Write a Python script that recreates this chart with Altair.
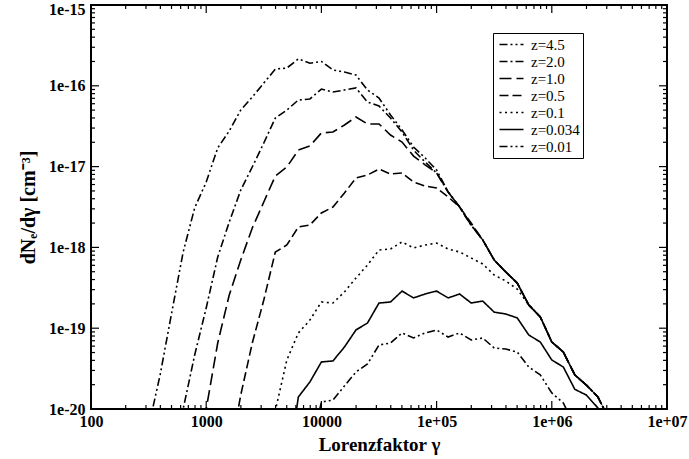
import altair as alt
import pandas as pd

# Lorentz factor grid (log-spaced, 0.1 dex)
GAMMA = [316.2, 398.1, 501.2, 631.0, 794.3, 1000, 1258.9, 1584.9, 1995.3, 2511.9,
         3162.3, 3981.1, 5011.9, 6309.6, 7943.3, 10000, 12589, 15849, 19953, 25119,
         31623, 39811, 50119, 63096, 79433, 100000, 125893, 158489, 199526, 251189,
         316228, 398107, 501187, 630957, 794328, 1000000, 1258925, 1584893, 1995262,
         2511886, 3162278]

Z_LABELS = ["z=4.5", "z=2.0", "z=1.0", "z=0.5", "z=0.1", "z=0.034", "z=0.01"]

N_Z45 = [6e-21, 2.64e-20, 1.54e-19, 8.77e-19, 3.08e-18, 6.44e-18, 1.70e-17, 2.76e-17, 5.01e-17, 7.26e-17,
         1.08e-16, 1.61e-16, 1.66e-16, 2.15e-16, 1.90e-16, 2.00e-16, 1.57e-16, 1.48e-16, 1.36e-16, 8.87e-17,
         7.06e-17, 4.36e-17, 2.84e-17, 1.75e-17, 1.28e-17, 9.08e-18, 4.85e-18, 3.16e-18, 1.89e-18, 1.24e-18,
         6.98e-19, 4.97e-19, 3.62e-19, 1.94e-19, 1.38e-19, 6.75e-20, 5.07e-20, 2.64e-20, 1.98e-20, 1.41e-20,
         7.3e-21]
N_Z20 = [None, None, 2e-21, 1.0e-20, 4.66e-20, 1.78e-19, 7.60e-19, 2.06e-18, 5.13e-18, 9.89e-18,
         1.96e-17, 3.99e-17, 5.01e-17, 6.67e-17, 6.87e-17, 9.12e-17, 8.38e-17, 8.87e-17, 9.40e-17, 6.31e-17,
         5.62e-17, 3.99e-17, 2.68e-17, 1.60e-17, 1.14e-17, 8.34e-18, 4.85e-18, 3.16e-18, 1.89e-18, 1.24e-18,
         6.98e-19, 4.97e-19, 3.62e-19, 1.94e-19, 1.38e-19, 6.75e-20, 5.07e-20, 2.64e-20, 1.98e-20, 1.41e-20,
         7.3e-21]
N_Z10 = [None, None, None, None, 3e-21, 1.0e-20, 6.56e-20, 2.58e-19, 6.98e-19, 1.74e-18,
         3.65e-18, 7.65e-18, 9.89e-18, 1.60e-17, 1.80e-17, 2.61e-17, 2.68e-17, 3.27e-17, 4.11e-17, 3.37e-17,
         3.37e-17, 2.46e-17, 2.01e-17, 1.35e-17, 1.05e-17, 8.34e-18, 4.85e-18, 3.16e-18, 1.89e-18, 1.24e-18,
         6.98e-19, 4.97e-19, 3.62e-19, 1.94e-19, 1.38e-19, 6.75e-20, 5.07e-20, 2.64e-20, 1.98e-20, 1.41e-20,
         7.3e-21]
N_Z05 = [None, None, None, None, None, None, None, 2.5e-21, 1.49e-20, 6.56e-20,
         2.23e-19, 8.77e-19, 1.07e-18, 1.79e-18, 1.89e-18, 2.67e-18, 3.16e-18, 4.71e-18, 7.23e-18, 7.87e-18,
         9.33e-18, 8.09e-18, 8.34e-18, 6.44e-18, 5.75e-18, 5.43e-18, 4.21e-18, 3.16e-18, 2.0e-18, 1.24e-18,
         6.98e-19, 4.97e-19, 3.62e-19, 1.94e-19, 1.38e-19, 6.75e-20, 5.07e-20, 2.64e-20, 1.98e-20, 1.41e-20,
         7.3e-21]
N_Z01 = [None, None, None, None, None, None, None, None, None, None,
         2e-21, 9.5e-21, 4.04e-20, 8.73e-20, 1.26e-19, 2.11e-19, 2.05e-19, 2.81e-19, 4.18e-19, 6.05e-19,
         9.29e-19, 9.55e-19, 1.17e-18, 9.84e-19, 1.07e-18, 1.13e-18, 9.55e-19, 8.77e-19, 7.40e-19, 6.24e-19,
         4.55e-19, 3.84e-19, 3.05e-19, 1.94e-19, 1.38e-19, 6.75e-20, 5.07e-20, 2.64e-20, 1.98e-20, 1.41e-20,
         7.3e-21]
N_Z0034 = [None, None, None, None, None, None, None, None, None, None,
           None, None, 1.5e-21, 1.41e-20, 2.16e-20, 3.82e-20, 3.93e-20, 5.85e-20, 9.51e-20, 1.16e-19,
           2.05e-19, 2.11e-19, 2.88e-19, 2.37e-19, 2.65e-19, 2.88e-19, 2.37e-19, 2.65e-19, 2.05e-19, 2.17e-19,
           1.58e-19, 1.50e-19, 1.34e-19, 8.24e-20, 6.75e-20, 4.04e-20, 3.31e-20, 1.75e-20, 1.49e-20, 1.03e-20,
           6e-21]
N_Z001 = [None, None, None, None, None, None, None, None, None, None,
          None, None, None, None, 3e-21, 1.22e-20, 1.29e-20, 1.93e-20, 2.87e-20, 3.61e-20,
          6.19e-20, 6.56e-20, 8.73e-20, 7.57e-20, 8.73e-20, 9.51e-20, 7.78e-20, 8.73e-20, 7.14e-20, 7.57e-20,
          5.69e-20, 5.53e-20, 5.07e-20, 3.31e-20, 2.64e-20, 1.58e-20, 1.19e-20, 6e-21, None, None,
          None]

SERIES = [N_Z45, N_Z20, N_Z10, N_Z05, N_Z01, N_Z0034, N_Z001]

X_MAJOR = [1e2, 1e3, 1e4, 1e5, 1e6, 1e7]
Y_MAJOR = [1e-20, 1e-19, 1e-18, 1e-17, 1e-16, 1e-15]
X_MINOR = [m * d for d in [1e2, 1e3, 1e4, 1e5, 1e6] for m in range(2, 10)]
Y_MINOR = [m * d for d in [1e-20, 1e-19, 1e-18, 1e-17, 1e-16] for m in range(2, 10)]

rows = []
for lab, vals in zip(Z_LABELS, SERIES):
    for g, v in zip(GAMMA, vals):
        if v is not None:
            rows.append({"gamma": g, "n": v, "z": lab})
df = pd.DataFrame(rows)

W, H = 576, 404
FONT = "Liberation Serif"
xscale = alt.Scale(type="log", domain=[1e2, 1e7], nice=False)
yscale = alt.Scale(type="log", domain=[1e-20, 1e-15], nice=False)

X_AXIS = alt.Axis(values=X_MAJOR, ticks=False, domain=False, grid=False,
                  labelExpr="datum.value < 100000 ? '' + datum.value : '1e+0' + round(log(datum.value)/LN10)",
                  labelFont=FONT, labelFontWeight="bold", labelFontSize=16, labelColor="black",
                  labelPadding=4, labelFlush=False, labelOverlap=False,
                  title="Lorenzfaktor γ", titleFont=FONT, titleFontWeight="bold",
                  titleFontSize=19, titleColor="black", titlePadding=6)
Y_AXIS = alt.Axis(values=Y_MAJOR, ticks=False, domain=False, grid=False,
                  labelExpr="'1e-' + (-round(log(datum.value)/LN10))",
                  labelFont=FONT, labelFontWeight="bold", labelFontSize=16, labelColor="black",
                  labelPadding=6, labelFlush=False, labelOverlap=False,
                  labelOffset={"condition": {"test": "datum.value > 5e-16", "value": 4}, "value": 0},
                  title="dNₑ/dγ [cm⁻³]", titleFont=FONT, titleFontWeight="bold",
                  titleFontSize=20, titleColor="black", titlePadding=10)

DASHES = [[8, 3, 2, 3, 2, 3], [8, 3, 2, 3], [12, 5], [9, 4], [2, 3.5], [1, 0], [8, 3, 2, 3, 2, 3]]
WIDTHS = [1.6, 1.6, 1.6, 2.0, 1.8, 1.7, 1.6]

lines = alt.Chart(df).mark_line(clip=True, color="black").encode(
    x=alt.X("gamma:Q", scale=xscale, axis=X_AXIS),
    y=alt.Y("n:Q", scale=yscale, axis=Y_AXIS),
    strokeDash=alt.StrokeDash("z:N", scale=alt.Scale(domain=Z_LABELS, range=DASHES),
                              legend=alt.Legend(title=None, orient="none", legendX=402, legendY=28,
                                                symbolType="M-1.6,0L1.6,0", symbolSize=225,
                                                symbolStrokeWidth=1.6, symbolStrokeColor="black",
                                                symbolFillColor="transparent",
                                                labelFont=FONT, labelFontSize=15, labelColor="black",
                                                rowPadding=0, padding=3, strokeColor="black",
                                                fillColor="white", symbolOffset=7, labelOffset=11,
                                                labelLimit=0)),
    strokeWidth=alt.StrokeWidth("z:N", scale=alt.Scale(domain=Z_LABELS, range=WIDTHS), legend=None),
)


def xticks(vals, y1, y2):
    return alt.Chart(pd.DataFrame({"gamma": vals})).mark_rule(color="black", strokeWidth=1.2).encode(
        x=alt.X("gamma:Q", scale=xscale, axis=X_AXIS), y=alt.value(y1), y2=alt.value(y2))


def yticks(vals, x1, x2):
    return alt.Chart(pd.DataFrame({"n": vals})).mark_rule(color="black", strokeWidth=1.2).encode(
        y=alt.Y("n:Q", scale=yscale, axis=Y_AXIS), x=alt.value(x1), x2=alt.value(x2))


ticks = [
    xticks(X_MAJOR, H, H - 8), xticks(X_MINOR, H, H - 4),
    xticks(X_MAJOR, 0, 8), xticks(X_MINOR, 0, 4),
    yticks(Y_MAJOR, 0, 8), yticks(Y_MINOR, 0, 4),
    yticks(Y_MAJOR, W, W - 8), yticks(Y_MINOR, W, W - 4),
]

chart = alt.layer(lines, *ticks).properties(
    width=W, height=H,
    padding={"left": 91, "top": 5, "right": 22, "bottom": 50},
    autosize=alt.AutoSizeParams(type="none"),
).configure_view(stroke="black", strokeWidth=2)

chart.save("out.html", embed_options={"renderer": "svg", "actions": False})
